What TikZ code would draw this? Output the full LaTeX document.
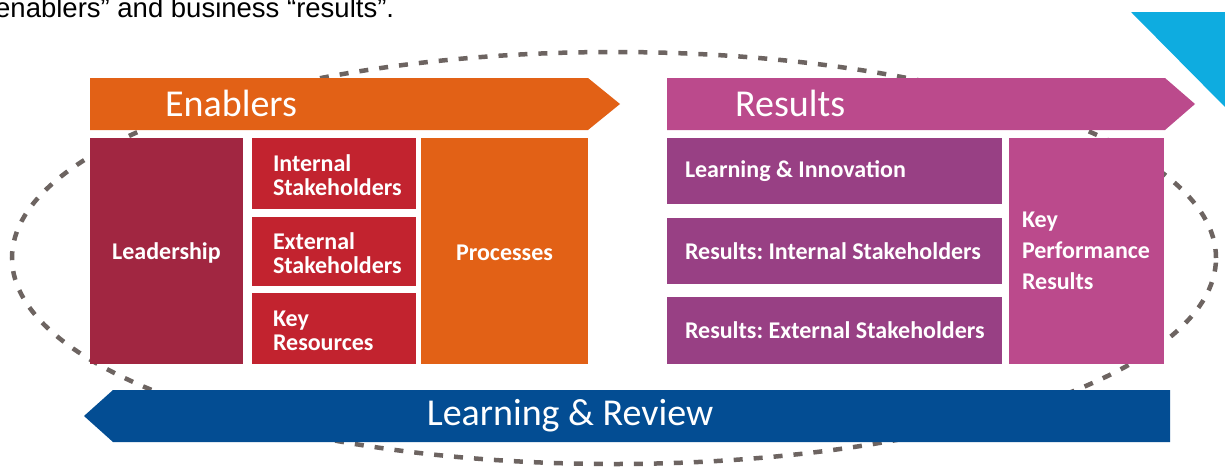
\documentclass[tikz,border=0pt]{standalone}
\usepackage{fontspec}
\setmainfont{Carlito}
\newfontfamily\introfont{Liberation Sans}
\frenchspacing
\usetikzlibrary{positioning}
\definecolor{cenab}{HTML}{E26116}
\definecolor{clead}{HTML}{A12641}
\definecolor{cstake}{HTML}{C2232F}
\definecolor{cres}{HTML}{BB4A8C}
\definecolor{cpurp}{HTML}{984084}
\definecolor{crev}{HTML}{034D93}
\definecolor{csky}{HTML}{0EACE0}
\definecolor{cdash}{HTML}{6D6461}
\tikzset{
  cell/.style={fill=#1, inner sep=0pt, minimum height=226pt},
  celltext/.style={text=white, font=\fontsize{24}{24}\selectfont\bfseries, align=left, inner sep=0pt},
  head/.style={text=white, font=\fontsize{38}{38}\selectfont, inner sep=0pt},
  rim/.style={draw=cdash, line width=4.5pt, dash pattern=on 9pt off 11pt},
}

\begin{document}
\begin{tikzpicture}[x=1pt, y=-1pt]
  \useasboundingbox (0,0) rectangle (1225,472);
  \fill[white] (0,0) rectangle (1225,472);
  % cut-off line of the page above
  \node[anchor=base west, inner sep=0pt, font=\introfont\fontsize{27.5}{27.5}\selectfont] (intro) at (-5,17) {enablers” and business “results”.};
  \fill[csky] (1131,12) -- (1225,12) -- (1225,107) -- cycle;
  \draw[rim] (614,258) ellipse [x radius=602pt, y radius=206pt];
  % the two headline arrows and the feedback arrow
  \fill[cenab] (90,78) -- (588,78) -- (620,104) -- (588,130) -- (90,130) -- cycle;
  \fill[cres] (667,78) -- (1165,78) -- (1195,104) -- (1165,130) -- (667,130) -- cycle;
  \fill[crev] (113,390) -- (1170,390) -- (1170,442) -- (113,442) -- (84,416) -- cycle;
  \node[head, anchor=base west] (enab) at (165,116) {Enablers};
  \node[head, anchor=base west] (res) at (735,116) {Results};
  \node[head, anchor=base] (review) at (570,425) {Learning \& Review};
  % enablers
  \node[cell=clead, minimum width=153pt] (lead) at (166.5,251) {};
  \node[celltext, yshift=-2pt] (lead-t) at (lead.center) {Leadership};
  \foreach \nm/\yc/\hgt/\txt in {intst/173.5/71/{Internal\\Stakeholders}, extst/251.5/69/{External\\Stakeholders}, keyres/328.5/71/{Key\\Resources}}{
    \node[cell=cstake, minimum width=164pt, minimum height=\hgt pt] (\nm) at (334,\yc) {};
    \node[celltext, anchor=west, yshift=-2pt] (\nm-t) at ([xshift=21pt]\nm.west) {\txt};
  }
  \node[cell=cenab, minimum width=167pt] (proc) at (504.5,251) {};
  \node[celltext, yshift=-2pt] (proc-t) at (proc.center) {Processes};
  % results
  \foreach \nm/\yc/\hgt/\txt in {learn/171/66/{Learning \& Innovation}, resint/251/66/{Results: Internal Stakeholders}, resext/330.5/67/{Results: External Stakeholders}}{
    \node[cell=cpurp, minimum width=335pt, minimum height=\hgt pt] (\nm) at (834.5,\yc) {};
    \node[celltext, anchor=west] (\nm-t) at ([xshift=18pt]\nm.west) {\txt};
  }
  \node[cell=cres, minimum width=155pt] (kpr) at (1086.5,251) {};
  \node[celltext, anchor=west, font=\fontsize{24}{31}\selectfont\bfseries] (kpr-t) at ([xshift=13pt]kpr.west) {Key\\Performance\\Results};
\end{tikzpicture}
\end{document}
